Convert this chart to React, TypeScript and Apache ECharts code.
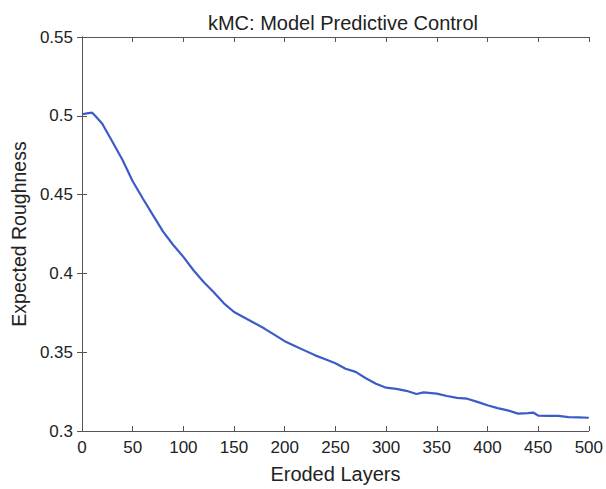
import React, { useEffect, useRef } from "react";
import * as echarts from "echarts";

const layers = [0, 5, 10, 13, 20, 30, 40, 50, 60, 70, 80, 90, 100, 110, 120, 130, 140, 150, 160, 170, 180, 190, 200, 210, 220, 230, 240, 250, 260, 270, 280, 290, 300, 310, 320, 330, 337, 350, 360, 370, 380, 390, 400, 410, 420, 430, 440, 445, 450, 460, 470, 480, 490, 500];
const roughness = [0.501, 0.5015, 0.502, 0.5, 0.495, 0.4835, 0.472, 0.4585, 0.4475, 0.437, 0.4265, 0.418, 0.4105, 0.402, 0.3945, 0.388, 0.381, 0.3755, 0.372, 0.3685, 0.365, 0.361, 0.357, 0.354, 0.351, 0.348, 0.3455, 0.343, 0.3395, 0.3375, 0.3335, 0.33, 0.3275, 0.3267, 0.3255, 0.3235, 0.3245, 0.3237, 0.3222, 0.321, 0.3205, 0.3185, 0.3163, 0.3145, 0.3131, 0.311, 0.3113, 0.3117, 0.3098, 0.3096, 0.3096, 0.3088, 0.3087, 0.3084];

const titleText = "kMC: Model Predictive Control";
const xName = "Eroded Layers";
const yName = "Expected Roughness";

const FONT = "Liberation Sans";
const axisColor = "#555";
const textColor = "#222";

export default function App() {
  const ref = useRef<HTMLDivElement>(null);
  useEffect(() => {
    if (!ref.current) return;
    const chart = echarts.init(ref.current, null, { renderer: "svg" });
    const data = layers.map((x, i) => [x, roughness[i]]);
    const baseX = {
      type: "value",
      min: 0,
      max: 500,
      interval: 50,
      axisLine: { show: true, lineStyle: { color: axisColor, width: 1 } },
      axisTick: { show: true, inside: true, length: 5, lineStyle: { color: axisColor } },
      splitLine: { show: false },
    };
    const baseY = {
      type: "value",
      min: 0.3,
      max: 0.55,
      interval: 0.05,
      axisLine: { show: true, lineStyle: { color: axisColor, width: 1 } },
      axisTick: { show: true, inside: true, length: 5, lineStyle: { color: axisColor } },
      splitLine: { show: false },
    };
    chart.setOption({
      animation: false,
      backgroundColor: "#fff",
      title: {
        text: titleText,
        left: 338,
        top: 8,
        textAlign: "center",
        textStyle: { fontFamily: FONT, fontSize: 20, fontWeight: "normal", color: textColor },
      },
      grid: { left: 82, right: 15, top: 37, bottom: 53 },
      xAxis: [
        {
          ...baseX,
          position: "bottom",
          name: xName,
          nameLocation: "middle",
          nameGap: 33,
          nameTextStyle: { fontFamily: FONT, fontSize: 20, color: textColor },
          axisLabel: { show: true, margin: 8, fontFamily: FONT, fontSize: 17, color: textColor },
        },
        { ...baseX, position: "top", axisLabel: { show: false } },
      ],
      yAxis: [
        {
          ...baseY,
          position: "left",
          name: yName,
          nameLocation: "middle",
          nameGap: 52,
          nameTextStyle: { fontFamily: FONT, fontSize: 19.5, color: textColor },
          axisLabel: { show: true, margin: 9, fontFamily: FONT, fontSize: 17, color: textColor },
        },
        { ...baseY, position: "right", axisLabel: { show: false } },
      ],
      series: [
        {
          type: "line",
          data,
          showSymbol: false,
          smooth: false,
          lineStyle: { color: "#3b5cc6", width: 2.2 },
          xAxisIndex: 0,
          yAxisIndex: 0,
        },
      ],
    });
    return () => chart.dispose();
  }, []);
  return <div ref={ref} style={{ width: 606, height: 489, position: "absolute", left: 0, top: 0 }} />;
}
